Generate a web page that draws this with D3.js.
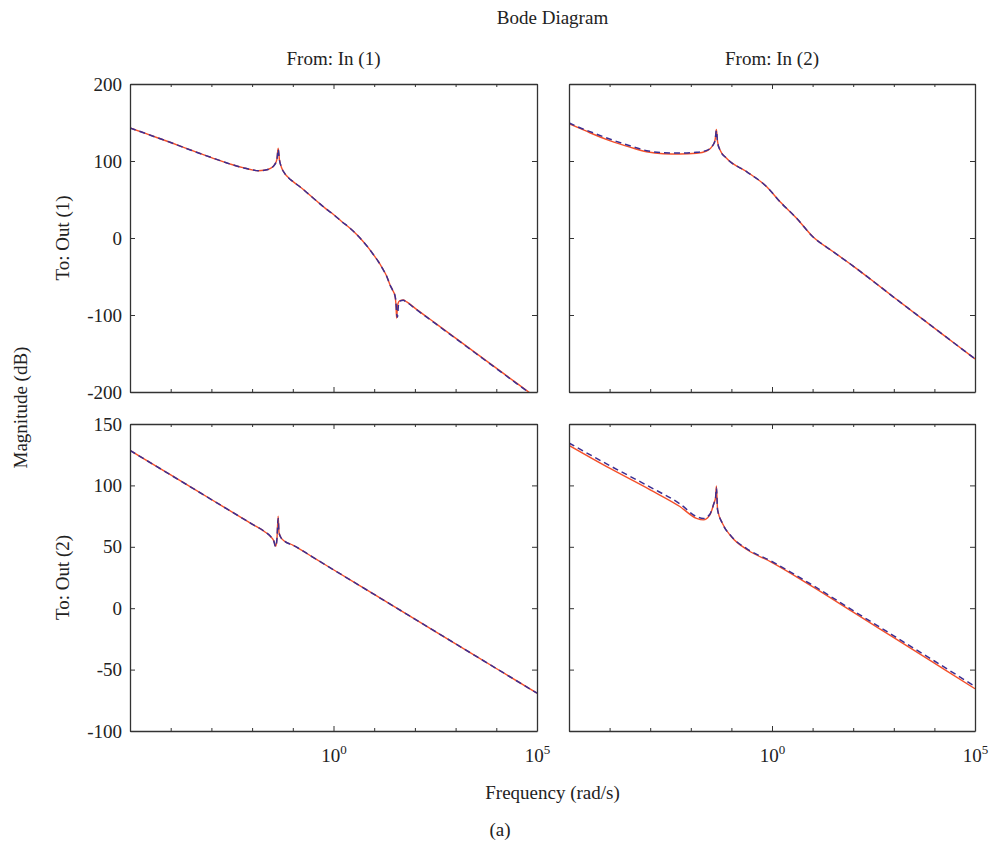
<!DOCTYPE html>
<html>
<head>
<meta charset="utf-8">
<script src="https://cdn.jsdelivr.net/npm/d3@7"></script>
<style>
  body { margin: 0; background: #fff; }
  text { font-family: "Liberation Serif", "DejaVu Serif", serif; fill: #222; }
</style>
</head>
<body>
<svg id="chart" width="992" height="846"></svg>
<script>
// Frequency grids (rad/s) and magnitudes (dB) for each input/output pair.
// "model" is the dashed reference response, "ident" the solid identified one.

// In (1) -> Out (1)
const freq11 = [1e-5, 3.16e-5, 1e-4, 3.16e-4, 1e-3, 3.16e-3, 6.31e-3, 0.01, 0.0141, 0.02,
  0.0282, 0.0355, 0.0407, 0.0437, 0.0468, 0.0525, 0.0631, 0.0794, 0.1, 0.158,
  0.316, 0.631, 1, 1.58, 2.51, 3.98, 6.31, 10, 12.6, 15.8,
  20.0, 24.5, 28.2, 32.4, 34.3, 35.5, 37.2, 39.8, 44.7, 51.3,
  63.1, 100, 316, 1000, 3160, 1e4, 3.16e4, 1e5];
const ident11 = [143, 133.5, 124, 114, 104.5, 95.5, 91, 88.5, 87.4, 88,
  90.5, 95, 102, 116.5, 102, 92, 84, 78, 73.5, 65.5,
  52, 38.5, 30.5, 21.5, 13, 3, -9, -23, -30.5, -39,
  -49, -61, -67.5, -75, -87, -104, -90, -83, -81, -80.5,
  -83, -91, -110.5, -130, -149.5, -169, -188.5, -208];
const model11 = [143, 133.5, 124, 114, 104.5, 95.5, 91, 88.5, 87.4, 88,
  90.5, 95, 102, 115, 102, 92, 84, 78, 73.5, 65.5,
  52, 38.5, 30.5, 21.5, 13, 3, -9, -23, -30.5, -39,
  -49, -61, -67.5, -75, -84, -96, -103, -85, -81.5, -81,
  -83.5, -91.5, -111, -130.5, -150, -169.5, -189, -208.5];

// In (2) -> Out (1)
const freq12 = [1e-5, 1.86e-5, 3.16e-5, 1e-4, 3.16e-4, 8.13e-4, 2.09e-3, 5.37e-3, 0.0138, 0.0245,
  0.0355, 0.0398, 0.0427, 0.0457, 0.0525, 0.0759, 0.240, 0.741, 1.58, 3.98,
  10, 31.6, 100, 316, 1000, 3160, 1e4, 3.16e4, 1e5];
const ident12 = [148.5, 142.4, 137, 126.5, 118, 112, 109.5, 109.1, 110, 113,
  120.8, 128, 141, 125, 114.3, 103.5, 86, 66.6, 47, 26,
  2, -17.5, -36.5, -56.5, -77, -97, -117, -137, -157];
const model12 = [149.5, 143.2, 138.5, 128.5, 119.8, 113.4, 110.8, 110.4, 111.3, 113.8,
  121, 127, 139.5, 124, 114.3, 103.5, 86, 66.6, 47, 26,
  2, -17.5, -36.5, -56.5, -77, -97, -117, -137, -157];

// In (1) -> Out (2)
const freq21 = [1e-5, 1e-4, 1e-3, 0.01, 0.02, 0.0282, 0.0339, 0.0380, 0.0407, 0.0437,
  0.0457, 0.0501, 0.0631, 0.1, 0.316, 1, 10, 100, 1000, 1e4, 1e5];
const ident21 = [128.5, 108.5, 88.5, 68.5, 62.5, 58.5, 55, 50.5, 56, 75,
  62, 58, 54.5, 51.4, 41.4, 31.3, 11.2, -8.9, -29, -49.1, -69.2];
const model21 = [128.5, 108.5, 88.5, 68.5, 62.5, 58.5, 55, 50, 56, 73,
  62, 58, 54.5, 51.4, 41.4, 31.3, 11.2, -8.9, -29, -49.1, -69.2];

// In (2) -> Out (2)
const freq22 = [1e-5, 1e-4, 1e-3, 5.37e-3, 0.0138, 0.0204, 0.0295, 0.0372, 0.0407, 0.0427,
  0.0457, 0.0603, 0.1, 0.251, 0.933, 10.2, 100, 1000, 1e4, 1e5];
const ident22 = [132.6, 114, 96.4, 82.8, 73.2, 71.9, 76, 85.5, 90, 99.6,
  80, 69, 58.2, 47.4, 37.8, 17.4, -3.2, -24, -44.8, -65.6];
const model22 = [134.5, 116.2, 98.6, 85, 74.6, 73, 76.5, 85.5, 89.5, 98,
  80, 69, 58.5, 48, 38.5, 18.5, -2, -22.5, -43, -63.7];

// Axis ticks and labels
const freqDomain = [1e-5, 1e5];
const decadeTicks = [1e-5, 1e-4, 1e-3, 1e-2, 1e-1, 1, 10, 100, 1e3, 1e4, 1e5];
const labelledDecades = [1, 1e5];
const magDomainTop = [-200, 200];
const magTicksTop = [-200, -100, 0, 100, 200];
const magDomainBottom = [-100, 150];
const magTicksBottom = [-100, -50, 0, 50, 100, 150];
const inputNames = ["From: In (1)", "From: In (2)"];
const outputNames = ["To: Out (1)", "To: Out (2)"];

// ---- layout ----
const svg = d3.select("#chart");
const colsX = [[130, 537], [569, 975]];
const rowsY = [[84, 392], [424, 731]];
const rowSpec = [
  { domain: magDomainTop, ticks: magTicksTop },
  { domain: magDomainBottom, ticks: magTicksBottom }
];
const series = [
  [{ f: freq11, ident: ident11, model: model11 }, { f: freq12, ident: ident12, model: model12 }],
  [{ f: freq21, ident: ident21, model: model21 }, { f: freq22, ident: ident22, model: model22 }]
];

const frameColor = "#333";
const identColor = "#f4502a";
const modelColor = "#3b2e92";

const defs = svg.append("defs");

rowsY.forEach(([y0, y1], r) => {
  colsX.forEach(([x0, x1], c) => {
    const x = d3.scaleLog().domain(freqDomain).range([x0, x1]);
    const y = d3.scaleLinear().domain(rowSpec[r].domain).range([y1, y0]);
    const g = svg.append("g");

    const clipId = `clip-${r}-${c}`;
    defs.append("clipPath").attr("id", clipId)
      .append("rect").attr("x", x0).attr("y", y0).attr("width", x1 - x0).attr("height", y1 - y0);

    // curves
    const d = series[r][c];
    const line = (vals) => d3.line()
      .x((v, i) => x(d.f[i]))
      .y(v => y(v))
      .curve(d3.curveMonotoneX)(vals);

    const plot = g.append("g").attr("clip-path", `url(#${clipId})`);
    plot.append("path").attr("d", line(d.ident))
      .attr("fill", "none").attr("stroke", identColor).attr("stroke-width", 1.4);
    plot.append("path").attr("d", line(d.model))
      .attr("fill", "none").attr("stroke", modelColor).attr("stroke-width", 1.5)
      .attr("stroke-dasharray", "6,4");

    // y axes (left with labels on first column, right without)
    const left = g.append("g").attr("transform", `translate(${x0},0)`)
      .call(d3.axisLeft(y).tickValues(rowSpec[r].ticks).tickSizeInner(-5).tickSizeOuter(0)
        .tickPadding(8).tickFormat(c === 0 ? (v => String(v)) : () => ""));
    const right = g.append("g").attr("transform", `translate(${x1},0)`)
      .call(d3.axisRight(y).tickValues(rowSpec[r].ticks).tickSizeInner(-5).tickSizeOuter(0)
        .tickFormat(() => ""));

    // x axes (top and bottom, inward ticks per decade)
    const top = g.append("g").attr("transform", `translate(0,${y0})`)
      .call(d3.axisTop(x).tickValues(decadeTicks).tickSizeInner(-3).tickSizeOuter(0)
        .tickFormat(() => ""));
    const bottom = g.append("g").attr("transform", `translate(0,${y1})`)
      .call(d3.axisBottom(x).tickValues(decadeTicks).tickSizeInner(-3).tickSizeOuter(0)
        .tickFormat(() => ""));
    top.selectAll(".tick line").filter(v => v === 1).attr("y2", 5);
    bottom.selectAll(".tick line").filter(v => v === 1).attr("y2", -5);

    [left, right, top, bottom].forEach(a => {
      a.select(".domain").attr("stroke", frameColor).attr("stroke-width", 1.3);
      a.selectAll(".tick line").attr("stroke", frameColor).attr("stroke-width", 1);
      a.selectAll("text").style("font-family", "Liberation Serif, DejaVu Serif, serif")
        .style("font-size", "19px").attr("fill", "#222");
    });

    // decade labels on the bottom row
    if (r === 1) {
      bottom.selectAll(".tick").filter(v => labelledDecades.includes(v))
        .append("text")
        .attr("y", 31).attr("text-anchor", "middle")
        .style("font-size", "19px")
        .each(function (v) {
          const t = d3.select(this);
          t.append("tspan").text("10");
          t.append("tspan").attr("dy", -8).style("font-size", "13px").text(String(Math.round(Math.log10(v))));
        });
    }

    // column headers and row labels
    if (r === 0) {
      svg.append("text").attr("x", (x0 + x1) / 2).attr("y", 65)
        .attr("text-anchor", "middle").style("font-size", "19px").text(inputNames[c]);
    }
    if (c === 0) {
      svg.append("text")
        .attr("transform", `translate(69,${(y0 + y1) / 2}) rotate(-90)`)
        .attr("text-anchor", "middle").style("font-size", "19px").text(outputNames[r]);
    }
  });
});

// overall titles
svg.append("text").attr("x", 552.5).attr("y", 24).attr("text-anchor", "middle")
  .style("font-size", "19px").text("Bode Diagram");
svg.append("text").attr("x", 552.5).attr("y", 799).attr("text-anchor", "middle")
  .style("font-size", "19px").text("Frequency (rad/s)");
svg.append("text").attr("transform", `translate(27,407.5) rotate(-90)`)
  .attr("text-anchor", "middle").style("font-size", "19px").text("Magnitude (dB)");
svg.append("text").attr("x", 500).attr("y", 836).attr("text-anchor", "middle")
  .style("font-size", "19px").text("(a)");
</script>
</body>
</html>
